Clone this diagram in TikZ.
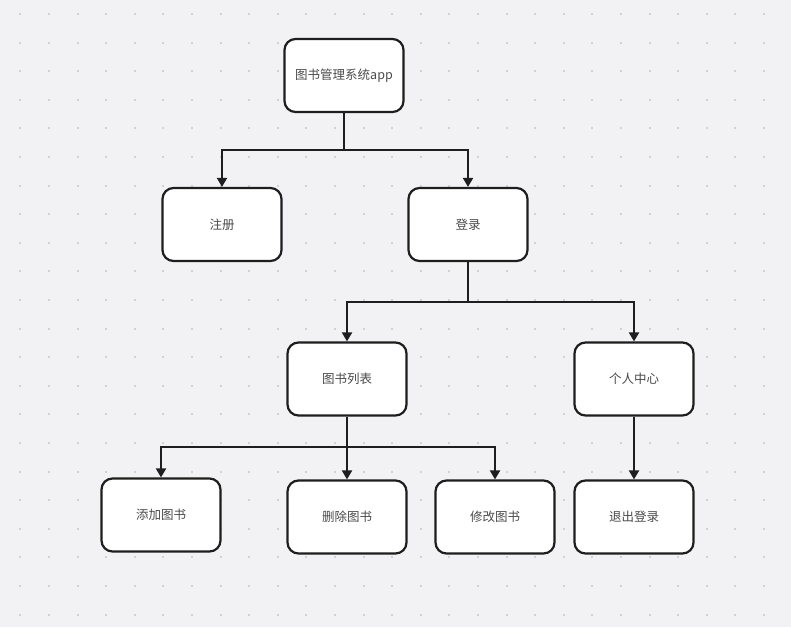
\documentclass[tikz,border=0pt]{standalone}
\usepackage{fontspec}
\setmainfont{Noto Sans CJK SC}
\usetikzlibrary{arrows.meta}
\definecolor{bgc}{HTML}{F2F2F4}
\definecolor{dotc}{HTML}{D2D2D6}
\definecolor{txtc}{HTML}{4A4A4A}
\definecolor{linec}{HTML}{1E1E1E}
\tikzset{
  box/.style={draw=linec, line width=2.2pt, fill=white, rounded corners=11pt,
    minimum width=119pt, minimum height=73pt, inner sep=0pt, text=txtc,
    font=\fontsize{12.5pt}{14pt}\selectfont},
  conn/.style={draw=linec, line width=2pt, -{Triangle[width=10pt,length=9pt]}},
  plain/.style={draw=linec, line width=2pt}
}
\begin{document}
\begin{tikzpicture}[x=1pt,y=-1pt]
\fill[bgc] (0,0) rectangle (791,627);
\useasboundingbox (0,0) rectangle (791,627);
\foreach \i in {0,...,27}{
  \foreach \j in {0,...,21}{
    \fill[dotc] ({20.3+28.6*\i-1},{14+28.6*\j-1}) rectangle ++(2,2);
  }
}
\node[box] (app) at (344,75.5) {图书管理系统app};
\node[box] (reg) at (222,224.5) {注册};
\node[box] (login) at (468,224.5) {登录};
\node[box] (list) at (347,379) {图书列表};
\node[box] (me) at (634,379) {个人中心};
\node[box] (add) at (161,515) {添加图书};
\node[box] (del) at (347,517) {删除图书};
\node[box] (mod) at (495,517) {修改图书};
\node[box] (out) at (634,517) {退出登录};

\coordinate (j1) at (344,150);
\coordinate (j2) at (468,302);
\coordinate (j3) at (347,447);

\draw[plain] (app.south) -- (j1);
\draw[conn] (j1) -| (reg.north);
\draw[conn] (j1) -| (login.north);
\draw[plain] (login.south) -- (j2);
\draw[conn] (j2) -| (list.north);
\draw[conn] (j2) -| (me.north);
\draw[plain] (list.south) -- (j3);
\draw[conn] (j3) -| (add.north);
\draw[conn] (j3) -- (del.north);
\draw[conn] (j3) -| (mod.north);
\draw[conn] (me.south) -- (out.north);
\end{tikzpicture}
\end{document}
